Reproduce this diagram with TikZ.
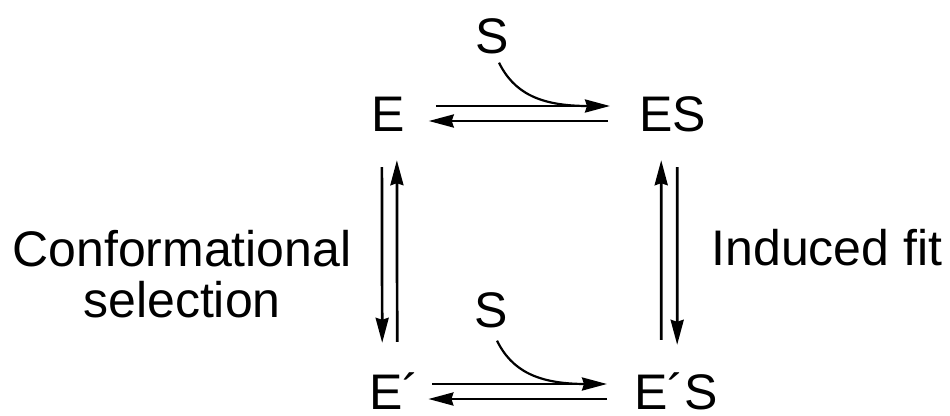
\documentclass[tikz,border=0pt]{standalone}
\usepackage{fontspec}
\setmainfont{Liberation Sans}
\usetikzlibrary{arrows.meta}
\begin{document}
\begin{tikzpicture}[x=1pt,y=-1pt,
  lab/.style={inner sep=0pt,font=\fontsize{50}{51}\selectfont},
  sp/.style={lab,text height=36pt,text depth=0pt},
  arr/.style={line width=2.7pt,-{Stealth[length=25pt,width=13pt,inset=2pt]}},
  subcurve/.style={line width=2.2pt}]
\useasboundingbox[fill=white] (0,0) rectangle (950,415);
% species
\node[sp,anchor=base west] (E)   at (371,131) {E};
\node[sp,anchor=base west] (ES)  at (639,131) {ES};
\node[sp,anchor=base west] (Ep)  at (369,409) {E´};
\node[sp,anchor=base west] (EpS) at (634,409) {E´S};
% substrates
\node[lab,anchor=base] (S1) at (492,53) {S};
\node[lab,anchor=base] (S2) at (491,327) {S};
% labels
\node[lab,align=center,anchor=south] (cs) at (182,318) {Conformational\\selection};
\node[lab,anchor=base] (if) at (827,265) {Induced fit};
% horizontal top
\draw[arr] ([xshift=31pt,yshift=7pt]E.east) -- ([xshift=-29pt,yshift=7pt]ES.west);
\draw[arr] ([xshift=-31pt,yshift=-8pt]ES.west) -- ([xshift=24pt,yshift=-8pt]E.east);
\coordinate (j1) at (588,106);
\draw[subcurve] ([xshift=7pt,yshift=-9pt]S1.south) .. controls (514,93) and (540,106) .. (j1);
% horizontal bottom
\draw[arr] ([xshift=13pt,yshift=7pt]Ep.east) -- ([xshift=-27pt,yshift=7pt]EpS.west);
\draw[arr] ([xshift=-27pt,yshift=-8pt]EpS.west) -- ([xshift=9pt,yshift=-8pt]Ep.east);
\coordinate (j2) at (586,384);
\draw[subcurve] ([xshift=6pt,yshift=-13pt]S2.south) .. controls (512,371) and (538,384) .. (j2);
% vertical left
\draw[arr] ([xshift=-6pt,yshift=-36pt]E.south) -- ([xshift=-12pt,yshift=30pt]Ep.north);
\draw[arr] ([xshift=3pt,yshift=31pt]Ep.north) -- ([xshift=9pt,yshift=-29pt]E.south);
% vertical right
\draw[arr] ([xshift=-14.7pt,yshift=33pt]EpS.north) -- ([xshift=-11.35pt,yshift=-29pt]ES.south);
\draw[arr] ([xshift=4.65pt,yshift=-36pt]ES.south) -- ([xshift=1.3pt,yshift=28pt]EpS.north);
\end{tikzpicture}
\end{document}
